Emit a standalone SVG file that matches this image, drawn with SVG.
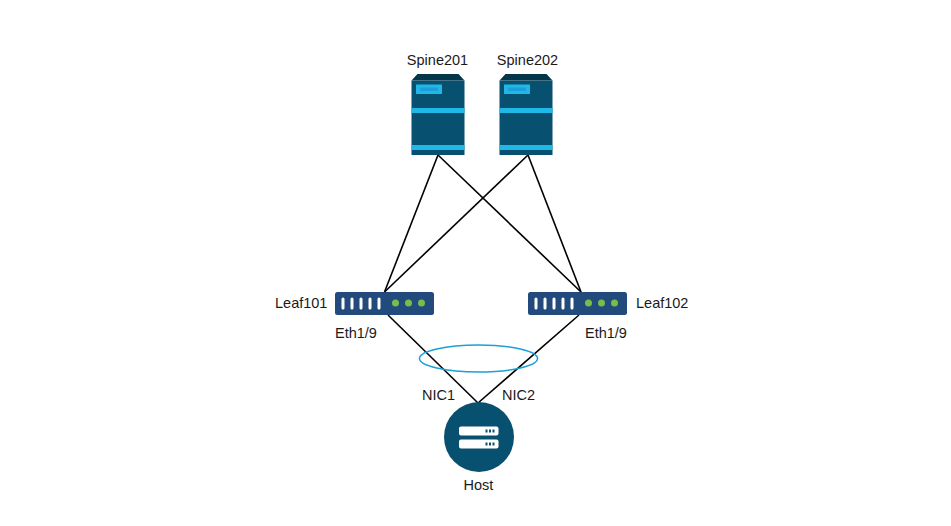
<svg xmlns="http://www.w3.org/2000/svg" width="951" height="526" viewBox="0 0 951 526">
<defs>
<style>
text{font-family:"Liberation Sans",Arial,sans-serif;font-size:14.5px;fill:#1a1a1a}
.lnk{stroke:#000;stroke-width:1.6;fill:none}
.body{fill:#08506f}.top{fill:#04364a}.band{fill:#1fb8e8}.inner{fill:#1a9fd6}
.sw{fill:#234a7d}.port{fill:#fff}.led{fill:#78bd4a}
</style>
<g id="tower">
<path class="top" d="M411.500 80.500 417.500 74H458.500L464.500 80.500Z"/>
<rect class="body" x="411.500" y="80.500" width="53" height="74.500"/>
<rect class="band" x="411.500" y="108" width="53" height="5"/>
<rect class="band" x="411.500" y="145" width="53" height="5"/>
<rect class="band" x="416" y="84.500" width="26" height="9.500"/>
<rect class="inner" x="420" y="87.500" width="18" height="3.500"/>
</g>
<g id="switch">
<rect class="sw" x="335" y="292" width="99" height="23" rx="2.500"/>
<rect class="port" x="341.500" y="297.500" width="3" height="12" rx="1.500"/>
<rect class="port" x="350.500" y="297.500" width="3" height="12" rx="1.500"/>
<rect class="port" x="359.500" y="297.500" width="3" height="12" rx="1.500"/>
<rect class="port" x="368.500" y="297.500" width="3" height="12" rx="1.500"/>
<rect class="port" x="377.500" y="297.500" width="3" height="12" rx="1.500"/>
<circle class="led" cx="395.500" cy="303" r="3.500"/>
<circle class="led" cx="408.500" cy="303" r="3.500"/>
<circle class="led" cx="421.500" cy="303" r="3.500"/>
</g>
</defs>
<rect width="951" height="526" fill="#fff"/>
<g id="connectors">
<line class="lnk" x1="438" y1="155" x2="384.500" y2="292"/>
<line class="lnk" x1="438" y1="155" x2="581" y2="292"/>
<line class="lnk" x1="528" y1="155" x2="384.500" y2="292"/>
<line class="lnk" x1="528" y1="155" x2="581" y2="292"/>
<line class="lnk" x1="388" y1="315" x2="478" y2="403"/>
<line class="lnk" x1="579" y1="315" x2="478" y2="403"/>
<ellipse cx="478.500" cy="358.500" rx="59" ry="13.500" fill="none" stroke="#1ba0d7" stroke-width="1.500"/>
</g>
<g id="spine201"><use href="#tower"/><text x="437.500" y="65" text-anchor="middle">Spine201</text></g>
<g id="spine202"><use href="#tower" x="88"/><text x="527.500" y="65" text-anchor="middle">Spine202</text></g>
<g id="leaf101"><use href="#switch"/><text x="275" y="307.500">Leaf101</text><text x="335" y="337.500">Eth1/9</text></g>
<g id="leaf102"><use href="#switch" x="193"/><text x="636" y="307.500">Leaf102</text><text x="585" y="337.500">Eth1/9</text></g>
<g id="host">
<circle class="body" cx="479" cy="437" r="35"/>
<rect class="port" x="459" y="426.500" width="39.500" height="9" rx="2"/>
<rect class="port" x="459" y="439.500" width="39.500" height="9" rx="2"/>
<g class="body"><rect x="485.500" y="429.500" width="2" height="3"/><rect x="489" y="429.500" width="2" height="3"/><rect x="492.500" y="429.500" width="2" height="3"/><rect x="485.500" y="442.500" width="2" height="3"/><rect x="489" y="442.500" width="2" height="3"/><rect x="492.500" y="442.500" width="2" height="3"/></g>
<text x="478.500" y="489.500" text-anchor="middle">Host</text>
</g>
<text id="nic1" x="422" y="399.500">NIC1</text>
<text id="nic2" x="502" y="399.500">NIC2</text>
</svg>
